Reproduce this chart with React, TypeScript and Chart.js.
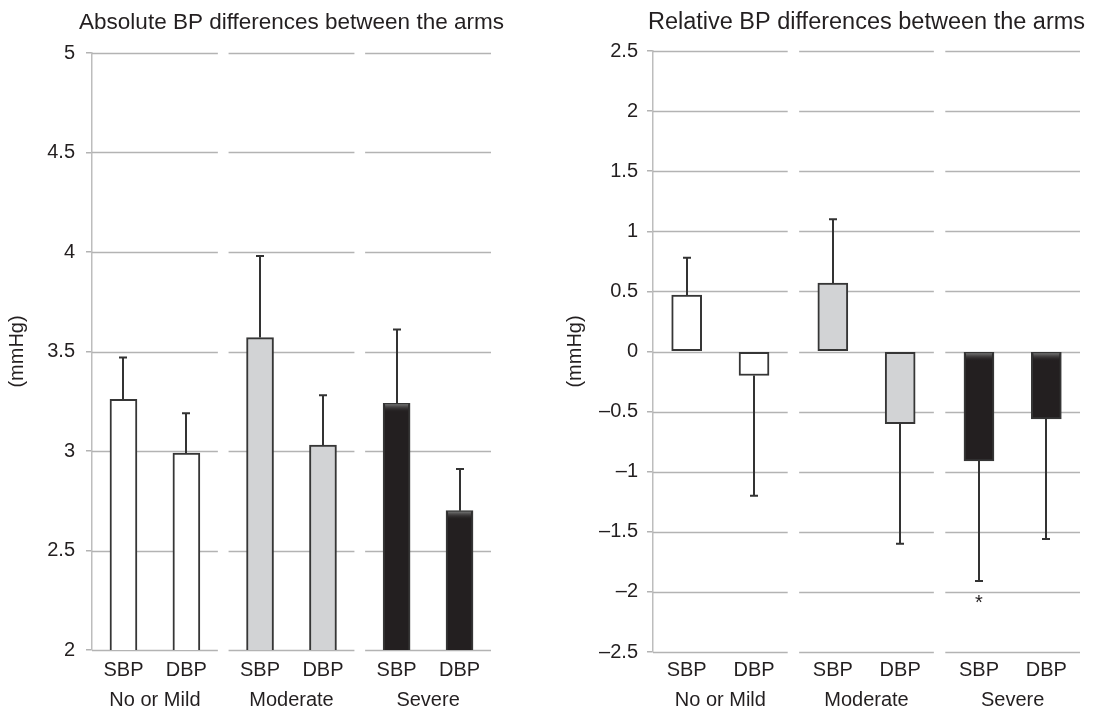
import React, { useEffect, useRef } from 'react';
import { Chart, registerables } from 'chart.js';

Chart.register(...registerables);

// ---------------- data ----------------
const groups = ['No or Mild', 'Moderate', 'Severe'];
const measures = ['SBP', 'DBP'];
const yAxisTitle = '(mmHg)';

const absTitle = 'Absolute BP differences between the arms';
const absMeans = [3.26, 2.99, 3.57, 3.03, 3.24, 2.7];
const absErrors = [0.21, 0.2, 0.41, 0.25, 0.37, 0.21];
const absMarks = ['', '', '', '', '', ''];
const absTicks = [2, 2.5, 3, 3.5, 4, 4.5, 5];

const relTitle = 'Relative BP differences between the arms';
const relMeans = [0.47, -0.2, 0.57, -0.6, -0.91, -0.56];
const relErrors = [0.31, 1.0, 0.53, 1.0, 1.0, 1.0];
const relMarks = ['', '', '', '', '*', ''];
const relTicks = [-2.5, -2, -1.5, -1, -0.5, 0, 0.5, 1, 1.5, 2, 2.5];

// ---------------- layout / style ----------------
const GROUP_STRIDE = 2.17;
const GROUP_SPAN = 2;
const BAR_OFFSETS = [0.5, 1.5];
const X_MAX = (groups.length - 1) * GROUP_STRIDE + GROUP_SPAN;
const groupFills = ['#ffffff', '#d2d3d5', '#231f20'];
const groupShade = [false, false, true];
const FONT = '"Liberation Sans", Arial, Helvetica, sans-serif';
const TEXT = '#231f20';
const GRID = '#b3b3b3';

const barPositions: number[] = [];
const barLabels: string[] = [];
const barFills: string[] = [];
const barShade: boolean[] = [];
groups.forEach((_, g) =>
  measures.forEach((m, k) => {
    barPositions.push(g * GROUP_STRIDE + BAR_OFFSETS[k]);
    barLabels.push(m);
    barFills.push(groupFills[g]);
    barShade.push(groupShade[g]);
  })
);
const groupCenters = groups.map((_, g) => g * GROUP_STRIDE + GROUP_SPAN / 2);

const fmt = (v: number) => (v < 0 ? '\u2013' + String(Math.abs(v)) : String(v));

type PanelProps = {
  title: string;
  means: number[];
  errors: number[];
  marks: string[];
  ticks: number[];
  left: number;
  width: number;
  axisWidth: number;
  padTop: number;
  padRight: number;
  subH: number;
  grpH: number;
  subPad: number;
  grpPad: number;
  tickPad: number;
  titlePad: number;
  barWidth: number;
  titleSize: number;
};

function Panel(p: PanelProps) {
  const ref = useRef<HTMLCanvasElement | null>(null);
  useEffect(() => {
    if (!ref.current) return;

    const segmentGrid = {
      id: 'segmentGrid',
      beforeDatasetsDraw(chart: any) {
        const { ctx } = chart;
        const xs = chart.scales.x;
        const ys = chart.scales.y;
        ctx.save();
        ctx.strokeStyle = GRID;
        ctx.lineWidth = 1.5;
        p.ticks.forEach((t) => {
          const y = Math.round(ys.getPixelForValue(t)) + 0.5;
          groups.forEach((_, g) => {
            const x0 = g === 0 ? chart.chartArea.left : xs.getPixelForValue(g * GROUP_STRIDE);
            const x1 = xs.getPixelForValue(g * GROUP_STRIDE + GROUP_SPAN);
            ctx.beginPath();
            ctx.moveTo(x0, y);
            ctx.lineTo(x1, y);
            ctx.stroke();
          });
        });
        ctx.restore();
      },
    };

    const errorBars = {
      id: 'errorBars',
      afterDatasetsDraw(chart: any) {
        const { ctx } = chart;
        const xs = chart.scales.x;
        const ys = chart.scales.y;
        const meta = chart.getDatasetMeta(0);
        ctx.save();
        // soft highlight on the top edge of the dark bars
        meta.data.forEach((el: any, i: number) => {
          if (!barShade[i]) return;
          const top = Math.min(el.y, el.base);
          const bottom = Math.max(el.y, el.base);
          const h = Math.min(8, bottom - top - 2);
          const g = ctx.createLinearGradient(0, top + 1, 0, top + 1 + h);
          g.addColorStop(0, 'rgba(120,120,120,0.95)');
          g.addColorStop(1, 'rgba(35,31,32,0)');
          ctx.fillStyle = g;
          ctx.fillRect(el.x - el.width / 2 + 2, top + 1, el.width - 4, h);
        });
        ctx.strokeStyle = '#333333';
        ctx.lineWidth = 2;
        ctx.fillStyle = TEXT;
        ctx.font = `20px ${FONT}`;
        ctx.textAlign = 'center';
        ctx.textBaseline = 'top';
        p.means.forEach((m, i) => {
          const dir = m >= 0 ? 1 : -1;
          const px = Math.round(xs.getPixelForValue(barPositions[i]));
          const y0 = ys.getPixelForValue(m);
          const y1 = ys.getPixelForValue(m + dir * p.errors[i]);
          ctx.beginPath();
          ctx.moveTo(px, y0);
          ctx.lineTo(px, y1);
          ctx.moveTo(px - 4, y1);
          ctx.lineTo(px + 4, y1);
          ctx.stroke();
          if (p.marks[i]) ctx.fillText(p.marks[i], px, y1 + 12);
        });
        ctx.restore();
      },
    };

    const titlePlugin = {
      id: 'panelTitle',
      afterDraw(chart: any) {
        const { ctx, chartArea } = chart;
        ctx.save();
        ctx.fillStyle = TEXT;
        ctx.font = `${p.titleSize}px ${FONT}`;
        ctx.textAlign = 'center';
        ctx.textBaseline = 'middle';
        ctx.fillText(p.title, (chartArea.left + chartArea.right) / 2, 23);
        ctx.restore();
      },
    };

    const chart = new Chart(ref.current, {
      type: 'bar',
      data: {
        datasets: [
          {
            data: p.means.map((v, i) => ({ x: barPositions[i], y: v })),
            backgroundColor: barFills,
            borderColor: '#363636',
            borderWidth: 2,
            borderSkipped: false,
            barThickness: p.barWidth,
          } as any,
        ],
      },
      options: {
        animation: false,
        responsive: false,
        events: [],
        layout: { padding: { left: 0, right: p.padRight, top: p.padTop, bottom: 0 } },
        plugins: { legend: { display: false }, tooltip: { enabled: false }, title: { display: false } },
        scales: {
          x: {
            type: 'linear',
            position: 'bottom',
            weight: 0,
            offset: false,
            min: 0,
            max: X_MAX,
            grid: { display: false, drawTicks: false, offset: false },
            border: { display: false },
            afterBuildTicks: (s: any) => {
              s.ticks = barPositions.map((v) => ({ value: v }));
            },
            afterFit: (s: any) => {
              s.height = p.subH;
            },
            ticks: {
              autoSkip: false,
              maxRotation: 0,
              padding: p.subPad,
              color: TEXT,
              font: { family: FONT, size: 20 },
              callback: (_v: any, i: number) => barLabels[i],
            },
          },
          xg: {
            type: 'linear',
            position: 'bottom',
            weight: 1,
            offset: false,
            min: 0,
            max: X_MAX,
            grid: { display: false, drawTicks: false, offset: false },
            border: { display: false },
            afterBuildTicks: (s: any) => {
              s.ticks = groupCenters.map((v) => ({ value: v }));
            },
            afterFit: (s: any) => {
              s.height = p.grpH;
            },
            ticks: {
              autoSkip: false,
              maxRotation: 0,
              padding: p.grpPad,
              color: TEXT,
              font: { family: FONT, size: 20 },
              callback: (_v: any, i: number) => groups[i],
            },
          },
          y: {
            type: 'linear',
            min: p.ticks[0],
            max: p.ticks[p.ticks.length - 1],
            afterBuildTicks: (s: any) => {
              s.ticks = p.ticks.map((v) => ({ value: v }));
            },
            afterFit: (s: any) => {
              s.width = p.axisWidth;
            },
            grid: { drawOnChartArea: false, drawTicks: true, tickLength: 6, color: GRID, lineWidth: 1.5 },
            border: { display: true, color: '#bdbdbd', width: 1.5 },
            title: {
              display: true,
              text: yAxisTitle,
              color: TEXT,
              font: { family: FONT, size: 20 },
              padding: { top: p.titlePad, bottom: 0 },
            },
            ticks: {
              padding: p.tickPad,
              color: TEXT,
              font: { family: FONT, size: 20 },
              callback: (v: any) => fmt(Number(v)),
            },
          },
        },
      } as any,
      plugins: [segmentGrid, errorBars, titlePlugin],
    });
    return () => chart.destroy();
  }, []);

  return (
    <div style={{ position: 'absolute', left: p.left, top: 0, width: p.width, height: 711 }}>
      <canvas ref={ref} width={p.width} height={711} style={{ width: p.width, height: 711, display: 'block' }} />
    </div>
  );
}

export default function App() {
  return (
    <div
      style={{
        position: 'fixed',
        left: 0,
        top: 0,
        width: 1098,
        height: 711,
        background: '#ffffff',
        overflow: 'hidden',
      }}
    >
      <Panel
        title={absTitle}
        means={absMeans}
        errors={absErrors}
        marks={absMarks}
        ticks={absTicks}
        left={0}
        width={560}
        axisWidth={92}
        padTop={53}
        padRight={69}
        subH={30}
        grpH={31}
        subPad={8}
        grpPad={8}
        tickPad={11}
        titlePad={5}
        barWidth={27}
        titleSize={22.5}
      />
      <Panel
        title={relTitle}
        means={relMeans}
        errors={relErrors}
        marks={relMarks}
        ticks={relTicks}
        left={560}
        width={538}
        axisWidth={93}
        padTop={51}
        padRight={18}
        subH={30}
        grpH={29}
        subPad={6}
        grpPad={6}
        tickPad={9}
        titlePad={3}
        barWidth={30}
        titleSize={23.5}
      />
    </div>
  );
}
